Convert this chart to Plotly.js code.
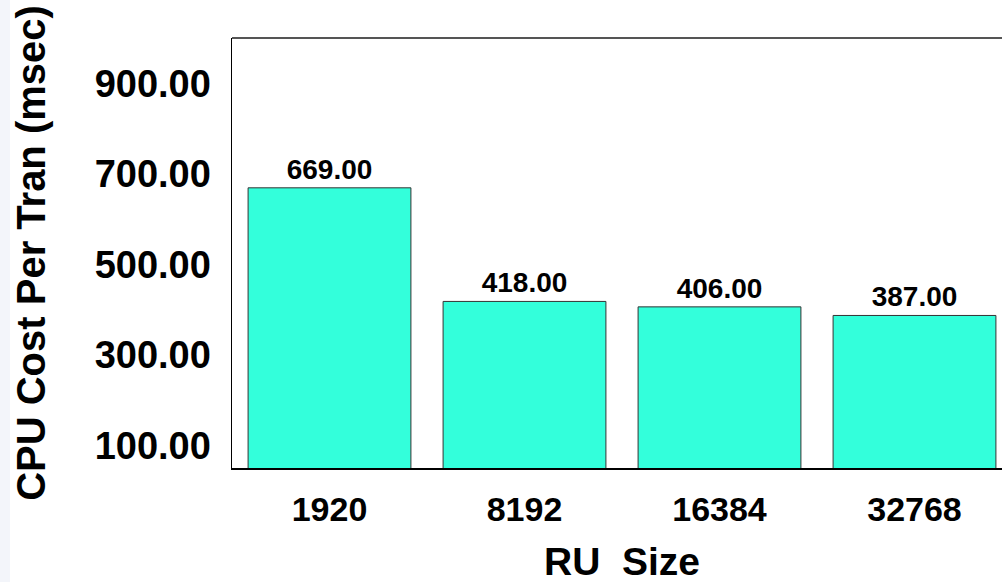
<!DOCTYPE html>
<html>
<head>
<meta charset="utf-8">
<script src="https://cdn.plot.ly/plotly-3.0.1.min.js"></script>
<style>
  html, body { margin: 0; padding: 0; overflow: hidden; }
  body { width: 1002px; height: 582px;
         background: linear-gradient(to right, #f3f5fa 0, #f3f5fa 10px, #ffffff 10px); }
  #chart { width: 1015px; height: 582px; }
</style>
</head>
<body>
<div id="chart"></div>
<script>
// RU sizes on the x axis and CPU cost per transaction (msec) for each
const ruSizes = ['1920', '8192', '16384', '32768'];
const cpuCost = [669.00, 418.00, 406.00, 387.00];
const yTickValues = [100, 300, 500, 700, 900];
const xTitle = 'RU  Size';
const yTitle = 'CPU Cost Per Tran (msec)';

const FONT = '"Liberation Sans", Arial, sans-serif';

const trace = {
  type: 'bar',
  x: ruSizes,
  y: cpuCost,
  marker: { color: '#33ffdb', line: { color: '#333333', width: 1 } },
  texttemplate: '%{y:.2f}',
  textposition: 'outside',
  cliponaxis: false,
  textfont: { family: FONT, size: 28, weight: 'bold', color: '#000000' },
  hoverinfo: 'x+y'
};

const layout = {
  width: 1015,
  height: 582,
  margin: { l: 232, r: 3, t: 38, b: 114 },
  paper_bgcolor: 'rgba(0,0,0,0)',
  plot_bgcolor: '#ffffff',
  showlegend: false,
  bargap: 0.165,
  font: { family: FONT },
  xaxis: {
    type: 'category',
    showline: true,
    linecolor: '#000000',
    linewidth: 2,
    ticks: '',
    showgrid: false,
    zeroline: false,
    ticklabelstandoff: 10,
    tickfont: { family: FONT, size: 34, weight: 'bold', color: '#000000' }
  },
  yaxis: {
    range: [50, 1000],
    tickvals: yTickValues,
    tickformat: '.2f',
    showline: true,
    linecolor: '#000000',
    linewidth: 1.5,
    ticks: '',
    showgrid: false,
    zeroline: false,
    ticklabelstandoff: 12,
    tickfont: { family: FONT, size: 38, weight: 'bold', color: '#000000' },
    title: {
      text: yTitle,
      standoff: 36,
      font: { family: FONT, size: 40, weight: 'bold', color: '#000000' }
    }
  },
  annotations: [
    // x-axis title, set low under the tick labels
    { text: xTitle, xref: 'paper', yref: 'paper', x: 0.5, y: -0.2186,
      xanchor: 'center', yanchor: 'middle', showarrow: false,
      font: { family: FONT, size: 39, weight: 'bold', color: '#000000' } }
  ],
  shapes: [
    { type: 'line', xref: 'paper', yref: 'paper', x0: 0, x1: 1, y0: 1, y1: 1,
      line: { color: '#555555', width: 2 } }
  ]
};

Plotly.newPlot('chart', [trace], layout, { staticPlot: true, displayModeBar: false });
</script>
</body>
</html>
